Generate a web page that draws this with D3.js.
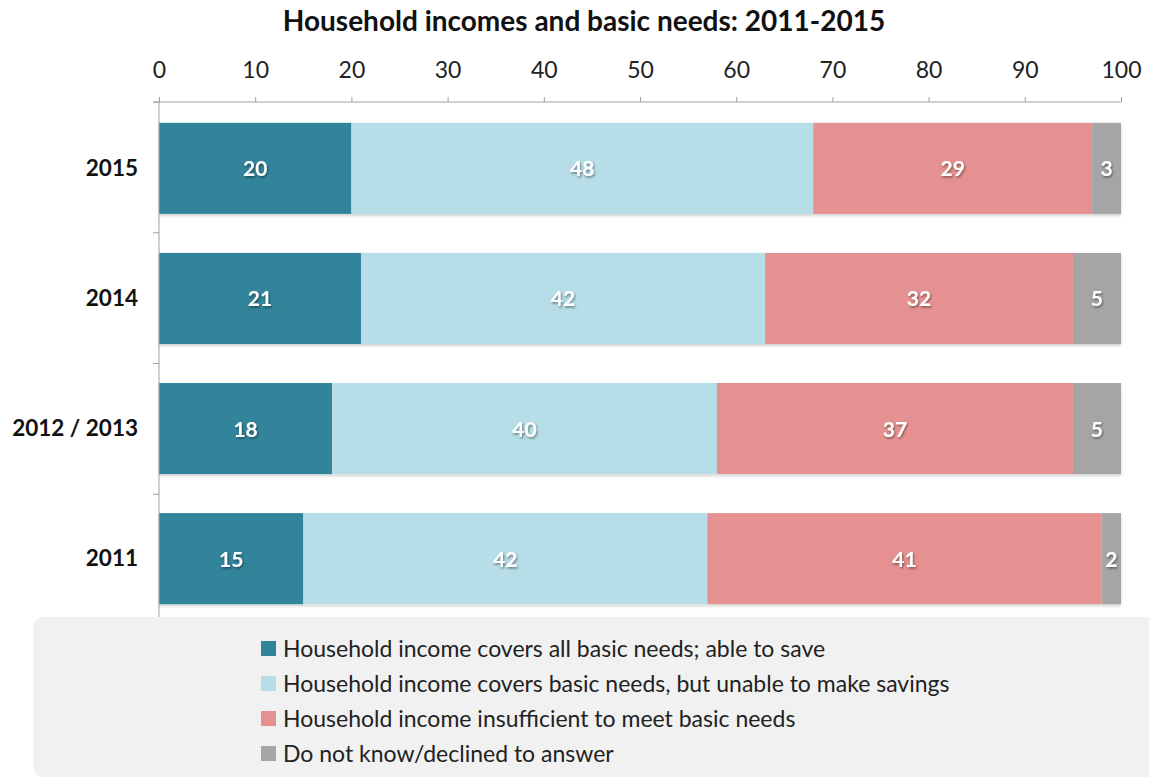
<!DOCTYPE html>
<html>
<head>
<meta charset="utf-8">
<script src="https://cdn.jsdelivr.net/npm/d3@7"></script>
<style>
  html, body { margin: 0; padding: 0; background: #ffffff; }
  svg { display: block; font-family: Lato, "Open Sans", sans-serif; }
</style>
</head>
<body>
<svg id="chart" width="1149" height="778"></svg>
<script>
// Survey years, top to bottom
const years = ["2015", "2014", "2012 / 2013", "2011"];

// Share of households (%) per answer, one array per answer, in year order
const coversAndSaves   = [20, 21, 18, 15];
const coversNoSavings  = [48, 42, 40, 42];
const insufficient     = [29, 32, 37, 41];
const declined         = [3, 5, 5, 2];

const seriesNames = [
  "Household income covers all basic needs; able to save",
  "Household income covers basic needs, but unable to make savings",
  "Household income insufficient to meet basic needs",
  "Do not know/declined to answer"
];
const seriesColors = ["#31849b", "#b7dde8", "#e69191", "#a5a5a5"];
const xTicks = [0, 10, 20, 30, 40, 50, 60, 70, 80, 90, 100];

const seriesValues = [coversAndSaves, coversNoSavings, insufficient, declined];

const svg = d3.select("#chart");
const plotLeft = 159, plotRight = 1121, plotTop = 102, plotBottom = 625;

const x = d3.scaleLinear().domain([0, 100]).range([plotLeft, plotRight]);
const y = d3.scaleBand().domain(years).range([plotTop, plotBottom]).paddingInner(0.3).paddingOuter(0.16);

// soft shadow under each bar and under the value labels
const defs = svg.append("defs");
const f = defs.append("filter").attr("id", "shadow").attr("x", "-5%").attr("y", "-10%").attr("width", "110%").attr("height", "130%");
f.append("feDropShadow").attr("dx", 0).attr("dy", 2).attr("stdDeviation", 1.5).attr("flood-color", "#000").attr("flood-opacity", 0.18);
const tf = defs.append("filter").attr("id", "textshadow").attr("x", "-20%").attr("y", "-20%").attr("width", "140%").attr("height", "140%");
tf.append("feDropShadow").attr("dx", 1).attr("dy", 1.5).attr("stdDeviation", 0.8).attr("flood-color", "#000").attr("flood-opacity", 0.45);

// Title
svg.append("text")
  .attr("x", 584).attr("y", 31)
  .attr("text-anchor", "middle")
  .attr("font-size", 28).attr("font-weight", "bold").attr("fill", "#111")
  .text("Household incomes and basic needs: 2011-2015");

// Top value axis
const xAxis = svg.append("g")
  .attr("transform", `translate(0,${plotTop})`)
  .call(d3.axisTop(x).tickValues(xTicks).tickSize(5).tickPadding(19).tickFormat(d3.format("d")));
xAxis.select(".domain").attr("stroke", "#a0a0a0").attr("d", `M${plotLeft - 6},0H${plotRight}`);
xAxis.selectAll(".tick line").attr("stroke", "#a0a0a0");
xAxis.selectAll(".tick text").attr("font-size", 23).attr("fill", "#222").attr("font-family", "Lato, 'Open Sans', sans-serif");

// Stacked rows
const stackData = years.map((yr, i) => {
  const row = { year: yr };
  seriesNames.forEach((n, k) => row[n] = seriesValues[k][i]);
  return row;
});
const stacked = d3.stack().keys(seriesNames)(stackData);

const barG = svg.append("g");
stackData.forEach((row, i) => {
  // one shadowed group per row so the shadow sits under the whole bar
  const g = barG.append("g").attr("filter", "url(#shadow)");
  stacked.forEach((layer, k) => {
    const seg = layer[i];
    g.append("rect")
      .attr("x", x(seg[0]))
      .attr("y", y(row.year))
      .attr("width", x(seg[1]) - x(seg[0]))
      .attr("height", y.bandwidth())
      .attr("fill", seriesColors[k]);
  });
});

// Segment value labels
const labelG = svg.append("g").attr("filter", "url(#textshadow)");
stacked.forEach((layer, k) => {
  layer.forEach((seg, i) => {
    labelG.append("text")
      .attr("x", (x(seg[0]) + x(seg[1])) / 2)
      .attr("y", y(years[i]) + y.bandwidth() / 2 + 8)
      .attr("text-anchor", "middle")
      .attr("font-size", 21).attr("font-weight", "bold").attr("fill", "#ffffff")
      .text(seg[1] - seg[0]);
  });
});

// Category axis on the left
const yAxis = svg.append("g")
  .attr("transform", `translate(${plotLeft},0)`)
  .call(d3.axisLeft(y).tickSize(0).tickPadding(21));
yAxis.select(".domain").attr("stroke", "#a0a0a0").attr("d", `M0,${plotTop}V${plotBottom}`);
yAxis.selectAll(".tick text").attr("font-size", 22.5).attr("font-weight", "bold").attr("fill", "#111")
  .attr("font-family", "Lato, 'Open Sans', sans-serif");
// separators between categories
const bounds = d3.range(years.length + 1).map(i => plotTop + i * (plotBottom - plotTop) / years.length);
yAxis.selectAll(".sep").data(bounds).join("line")
  .attr("class", "sep")
  .attr("x1", -6).attr("x2", 0)
  .attr("y1", d => d).attr("y2", d => d)
  .attr("stroke", "#a0a0a0");

// Legend panel
svg.append("rect")
  .attr("x", 33).attr("y", 617).attr("width", 1140).attr("height", 160)
  .attr("rx", 10).attr("ry", 10)
  .attr("fill", "#f1f1f1");

const legend = svg.append("g").attr("transform", "translate(261,641)");
seriesNames.forEach((name, k) => {
  const g = legend.append("g").attr("transform", `translate(0,${k * 35})`);
  g.append("rect").attr("width", 15).attr("height", 15).attr("fill", seriesColors[k]);
  g.append("text").attr("x", 22).attr("y", 15.5)
    .attr("font-size", 23).attr("fill", "#222")
    .text(name);
});
</script>
</body>
</html>
